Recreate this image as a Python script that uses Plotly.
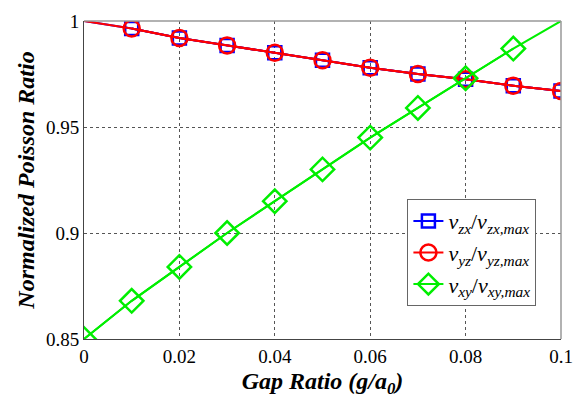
import plotly.graph_objects as go

gap_ratio = [0.0, 0.01, 0.02, 0.03, 0.04, 0.05, 0.06, 0.07, 0.08, 0.09, 0.1]
v_zx = [1.0, 0.9965, 0.992, 0.9885, 0.985, 0.9815, 0.978, 0.975, 0.9725, 0.9695, 0.967]
v_yz = [1.0, 0.9965, 0.992, 0.9885, 0.985, 0.9815, 0.978, 0.975, 0.9725, 0.9695, 0.967]
v_xy = [0.85, 0.868, 0.884, 0.900, 0.915, 0.930, 0.945, 0.959, 0.973, 0.987, 1.0]

x_ticks = [0, 0.02, 0.04, 0.06, 0.08, 0.1]
x_tick_labels = ["0", "0.02", "0.04", "0.06", "0.08", "0.1"]
y_ticks = [0.85, 0.9, 0.95, 1.0]
y_tick_labels = ["0.85", "0.9", "0.95", "1"]

names = [
    "<i>v</i><sub><i>zx</i></sub>/<i>v</i><sub><i>zx,max</i></sub>",
    "<i>v</i><sub><i>yz</i></sub>/<i>v</i><sub><i>yz,max</i></sub>",
    "<i>v</i><sub><i>xy</i></sub>/<i>v</i><sub><i>xy,max</i></sub>",
]

FONT = "Liberation Serif, Times New Roman, serif"

series = [
    (v_zx, names[0], "#0000ff", "square-open", 13, slice(1, 11)),
    (v_yz, names[1], "#ff0000", "circle-open", 16, slice(1, 11)),
    (v_xy, names[2], "#00ee00", "diamond-open", 18, slice(0, 10)),
]

fig = go.Figure()
for vals, name, color, sym, size, sl in series:
    # full line (no legend entry)
    fig.add_trace(go.Scatter(x=gap_ratio, y=vals, mode="lines", showlegend=False,
                             line=dict(color=color, width=2), hoverinfo="skip"))
    # markers only where the original shows them
    fig.add_trace(go.Scatter(x=gap_ratio[sl], y=vals[sl], name=name, mode="lines+markers",
                             line=dict(color=color, width=2),
                             marker=dict(symbol=sym, size=size, color=color,
                                         line=dict(width=2.5, color=color))))

fig.update_layout(
    width=576, height=409,
    margin=dict(l=84, r=15, t=21, b=70, autoexpand=False),
    paper_bgcolor="white", plot_bgcolor="white",
    font=dict(family=FONT, size=18, color="black"),
    showlegend=True,
    legend=dict(x=0.678, y=0.44, xanchor="left", yanchor="top",
                bgcolor="white", bordercolor="#666666", borderwidth=1,
                font=dict(family=FONT, size=22), tracegroupgap=0, itemwidth=30),
    xaxis=dict(range=[0, 0.1], tickvals=x_ticks, ticktext=x_tick_labels,
               showgrid=True, gridcolor="#555555", griddash="dot", gridwidth=1,
               showline=True, linecolor="#444444", linewidth=1, mirror=False,
               zeroline=False, ticks="", tickfont=dict(size=19), automargin=False,
               title=dict(text="<b><i>Gap Ratio (g/a<sub>0</sub>)</i></b>",
                          font=dict(size=24), standoff=6)),
    yaxis=dict(range=[0.85, 1.0], tickvals=y_ticks, ticktext=y_tick_labels,
               showgrid=True, gridcolor="#555555", griddash="dot", gridwidth=1,
               showline=True, linecolor="#444444", linewidth=1, mirror=False,
               zeroline=False, ticks="", tickfont=dict(size=19), automargin=False,
               title=dict(text="<b><i>Normalized Poisson Ratio</i></b>",
                          font=dict(size=24), standoff=4)),
    shapes=[
        dict(type="line", xref="paper", yref="paper", x0=0, x1=1, y0=1, y1=1,
             line=dict(color="#999999", width=1.5)),
        dict(type="line", xref="paper", yref="paper", x0=1, x1=1, y0=0, y1=1,
             line=dict(color="#999999", width=1.5)),
    ],
)

fig.write_html("out.html", config={"displayModeBar": False},
               post_script="document.body.style.margin='0';document.body.style.padding='0';")
